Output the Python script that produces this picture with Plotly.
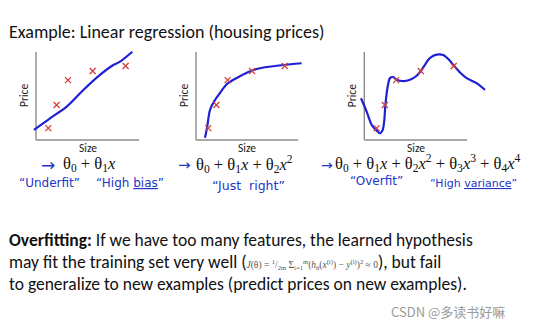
import plotly.graph_objects as go

W, H = 541, 329

# ---- data (arbitrary size / price units, axes span 0..10) ----
size_pts = [1.2, 2.0, 3.1, 5.5, 8.7]
price_pts = [1.35, 3.98, 6.8, 7.85, 8.41]

fit1_x = [-0.2, 1.36, 2.98, 4.6, 6.21, 7.5, 8.16, 9.35]
fit1_y = [1.14, 2.46, 3.79, 5.68, 7.39, 8.52, 8.9, 10.03]

fit2_x = [0.88, 1.08, 1.37, 1.86, 2.35, 3.04, 3.99, 5.95, 8.53, 10.36]
fit2_y = [0.26, 1.36, 3.41, 4.55, 5.34, 6.36, 7.05, 8.07, 8.52, 8.72]

fit3_x = [-0.32, 0.23, 0.72, 1.21, 1.53, 1.79, 1.95, 2.04, 2.18, 2.34, 2.5, 2.82,
          3.15, 3.8, 4.45, 5.1, 5.52, 5.91, 6.23, 6.72, 7.21, 7.69, 8.18, 8.73,
          9.32, 9.97, 10.94, 11.75]
fit3_y = [4.75, 3.23, 1.71, 1.06, 0.76, 1.14, 2.28, 3.8, 5.32, 6.46, 7.03, 7.15,
          6.84, 6.69, 6.84, 7.3, 7.87, 8.55, 9.12, 9.58, 9.73, 9.66, 9.2, 8.44,
          7.67, 7.03, 6.46, 5.7]

fits = [(fit1_x, fit1_y), (fit2_x, fit2_y), (fit3_x, fit3_y)]

title_text = "Example: Linear regression (housing prices)"
hyp_texts = [
    "θ<sub>0</sub> + θ<sub>1</sub><i>x</i>",
    "θ<sub>0</sub> + θ<sub>1</sub><i>x</i> + θ<sub>2</sub><i>x</i><sup>2</sup>",
    "θ<sub>0</sub> + θ<sub>1</sub><i>x</i> + θ<sub>2</sub><i>x</i><sup>2</sup> + θ<sub>3</sub><i>x</i><sup>3</sup> + θ<sub>4</sub><i>x</i><sup>4</sup>",
]

# ---- layout geometry (pixels) ----
X_RANGE = [-1, 12]
Y_RANGE = [-0.5, 10.5]
axis_px = [(36, 10.3), (196, 10.2), (364.3, 10.27)]  # x pixel of y-axis, px per unit
Y_TOP_PX, Y_UNIT = 52, 8.8

def xdom(x0, u):
    return [(x0 + X_RANGE[0] * u) / W, (x0 + X_RANGE[1] * u) / W]

ydom = [1 - (Y_TOP_PX + 10 * Y_UNIT - Y_RANGE[0] * Y_UNIT) / H,
        1 - (Y_TOP_PX - (Y_RANGE[1] - 10) * Y_UNIT) / H]

fig = go.Figure()
BLUE = "#1f1fd6"
RED = "#d0413e"
AX = "#8c8c8c"
HAND = "#2236c8"
SANS = "Carlito, Lato, sans-serif"
SERIF = "Liberation Serif, DejaVu Serif, serif"

shapes = []
annotations = []
for i, ((fx, fy), (x0, u)) in enumerate(zip(fits, axis_px)):
    n = "" if i == 0 else str(i + 1)
    xa, ya = "x" + n, "y" + n
    fig.add_trace(go.Scatter(x=fx, y=fy, mode="lines", line=dict(color=BLUE, width=2.2, shape="spline", smoothing=0.8),
                             xaxis=xa, yaxis=ya, showlegend=False, hoverinfo="skip"))
    fig.add_trace(go.Scatter(x=size_pts, y=price_pts, mode="markers",
                             marker=dict(symbol="x-thin", size=6, line=dict(width=1.3, color=RED)),
                             xaxis=xa, yaxis=ya, showlegend=False, cliponaxis=False))
    fig.layout["xaxis" + n] = dict(domain=xdom(x0, u), range=X_RANGE, visible=False, fixedrange=True)
    fig.layout["yaxis" + n] = dict(domain=ydom, range=Y_RANGE, visible=False, fixedrange=True, anchor=xa)
    fig.layout["xaxis" + n].anchor = ya
    shapes.append(dict(type="line", xref=xa, yref=ya, x0=0, y0=0, x1=0, y1=10, line=dict(color=AX, width=1.4), layer="below"))
    shapes.append(dict(type="line", xref=xa, yref=ya, x0=0, y0=0, x1=10, y1=0, line=dict(color=AX, width=1.4), layer="below"))
    annotations.append(dict(xref=xa, yref=ya, x=5, y=0, text="Size", showarrow=False, yanchor="top", yshift=1,
                            font=dict(family=SANS, size=11.5, color="#222")))
    annotations.append(dict(xref=xa, yref=ya, x=0, y=5, text="Price", showarrow=False, textangle=-90, xshift=-12,
                            font=dict(family=SANS, size=11.5, color="#222")))

def P(x, y):
    return x / W, 1 - y / H

def add_text(x, y, text, size, color="#111", family=SANS, xanchor="left"):
    px, py = P(x, y)
    annotations.append(dict(xref="paper", yref="paper", x=px, y=py, text=text, showarrow=False,
                            xanchor=xanchor, yanchor="middle", font=dict(family=family, size=size, color=color)))

add_text(7, 32, title_text, 18)

# hypotheses
add_text(39, 165, "→", 17, HAND, "DejaVu Sans")
add_text(61, 164, hyp_texts[0], 16.5, "#111", SERIF)
add_text(176, 165, "→", 15, HAND, "DejaVu Sans")
add_text(194, 164, hyp_texts[1], 16.5, "#111", SERIF)
add_text(319, 165, "→", 14, HAND, "DejaVu Sans")
add_text(333, 163, hyp_texts[2], 16.5, "#111", SERIF)

# handwritten remarks
add_text(17, 183, "“Underfit”", 12, HAND, "DejaVu Sans")
add_text(94, 183, "“High <span style='text-decoration:underline'>bias</span>”", 12, HAND, "DejaVu Sans")
add_text(210, 185, "“Just  right”", 12.5, HAND, "DejaVu Sans")
add_text(348, 181, "“Overfit”", 12, HAND, "DejaVu Sans")
add_text(428, 183, "“High <span style='text-decoration:underline'>variance</span>”", 11, HAND, "DejaVu Sans")

# bottom paragraph
math = ("<span style='font-family:Liberation Serif;font-size:9.5px;color:#555'>"
        "<i>J</i>(θ) = <sup>1</sup>/<sub>2m</sub> Σ<sub>i=1</sub><sup>m</sup>(<i>h</i><sub>θ</sub>(<i>x</i><sup>(i)</sup>) − <i>y</i><sup>(i)</sup>)<sup>2</sup> ≈ 0</span>")
add_text(7, 240, "<b>Overfitting:</b> If we have too many features, the learned hypothesis", 17.5)
add_text(7, 262, "may fit the training set very well (" + math + "), but fail", 17.5)
add_text(7, 284, "to generalize to new examples (predict prices on new examples).", 17.5)

add_text(507, 311, "CSDN @多读书好嘛", 13, "#9a9a9a", "Noto Sans CJK SC", xanchor="right")

fig.update_layout(width=W, height=H, margin=dict(l=0, r=0, t=0, b=0),
                  paper_bgcolor="white", plot_bgcolor="rgba(0,0,0,0)",
                  shapes=shapes, annotations=annotations)

fig.write_html("out.html", config={"displayModeBar": False})
